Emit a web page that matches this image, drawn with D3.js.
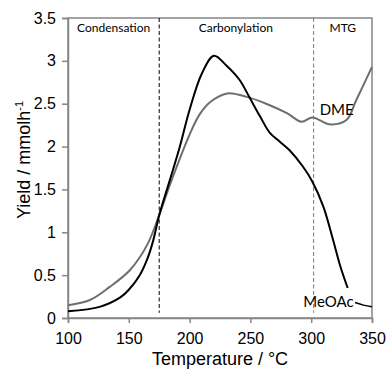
<!DOCTYPE html>
<html>
<head>
<meta charset="utf-8">
<script src="https://cdn.jsdelivr.net/npm/d3@7"></script>
<style>
body { margin: 0; background: #fff; }
text { font-family: "Liberation Sans", Arial, sans-serif; }
.lab { font-family: Lato, "Open Sans", sans-serif; }
</style>
</head>
<body>
<svg id="chart" width="387" height="370"></svg>
<script>
// MeOAc (black), gap where the label sits
var meoacT = [100, 126, 143, 150, 159, 165, 170, 175, 184, 192, 200, 210, 220, 230, 241, 249, 258, 266, 274, 282, 293, 301, 310, 318, 324, 330];
var meoacY = [0.08, 0.13, 0.24, 0.33, 0.5, 0.68, 0.9, 1.2, 1.62, 2.0, 2.43, 2.85, 3.06, 2.95, 2.78, 2.58, 2.35, 2.16, 2.06, 1.96, 1.77, 1.59, 1.3, 0.91, 0.6, 0.35];
var meoacTailT = [336, 343, 350];
var meoacTailY = [0.18, 0.15, 0.13];

// DME (grey)
var dmeT = [100, 118, 134, 151, 165, 175, 185, 200, 208, 217, 231, 247, 263, 280, 292, 301, 315, 329, 337, 350];
var dmeY = [0.15, 0.21, 0.36, 0.56, 0.85, 1.2, 1.6, 2.14, 2.37, 2.52, 2.62, 2.58, 2.5, 2.39, 2.29, 2.34, 2.26, 2.31, 2.54, 2.93];

var xTicks = [100, 150, 200, 250, 300, 350];
var yTicks = [0, 0.5, 1, 1.5, 2, 2.5, 3, 3.5];
var regions = ["Condensation", "Carbonylation", "MTG"];
var regionT = [137.5, 238, 326];
var bounds = [175, 302];

var svg = d3.select("#chart");
var margin = {left: 68, right: 15, top: 18, bottom: 52};
var w = 387 - margin.left - margin.right,
    h = 370 - margin.top - margin.bottom;
var g = svg.append("g").attr("transform", "translate(" + margin.left + "," + margin.top + ")");

var x = d3.scaleLinear().domain([100, 350]).range([0, w]);
var y = d3.scaleLinear().domain([0, 3.5]).range([h, 0]);

// frame
g.append("rect").attr("width", w).attr("height", h)
    .attr("fill", "none").attr("stroke", "#868686").attr("stroke-width", 1.5);

var xAxis = g.append("g").attr("transform", "translate(0," + h + ")")
    .call(d3.axisBottom(x).tickValues(xTicks).tickSize(5).tickPadding(10).tickFormat(d3.format("d")));
var yAxis = g.append("g")
    .call(d3.axisLeft(y).tickValues(yTicks).tickSize(6).tickPadding(6).tickFormat(function(d){ return String(d); }));
[xAxis, yAxis].forEach(function(a){
    a.select(".domain").attr("stroke", "#868686").attr("stroke-width", 1.5);
    a.selectAll(".tick line").attr("stroke", "#868686").attr("stroke-width", 1.5);
    a.selectAll("text").attr("font-size", 16).attr("fill", "#000")
        .style("font-family", "'Liberation Sans', Arial, sans-serif");
});

// region boundaries
g.selectAll(".bound").data(bounds).enter().append("line")
    .attr("x1", function(d){ return x(d); }).attr("x2", function(d){ return x(d); })
    .attr("y1", 0).attr("y2", y(0.06))
    .attr("stroke", function(d, i){ return i == 0 ? "#000" : "#777"; })
    .attr("stroke-width", 1).attr("stroke-dasharray", "4,2.5");

g.selectAll(".region").data(regions).enter().append("text")
    .attr("class", "lab")
    .attr("x", function(d, i){ return x(regionT[i]); })
    .attr("y", 14)
    .attr("text-anchor", "middle")
    .attr("font-size", 12)
    .text(function(d){ return d; });

var line = d3.line()
    .x(function(d){ return x(d[0]); })
    .y(function(d){ return y(d[1]); })
    .curve(d3.curveCatmullRom.alpha(0.5));

g.append("path").datum(d3.zip(dmeT, dmeY))
    .attr("fill", "none").attr("stroke", "#6e6e6e").attr("stroke-width", 2).attr("d", line);
g.append("path").datum(d3.zip(meoacT, meoacY))
    .attr("fill", "none").attr("stroke", "#000").attr("stroke-width", 2).attr("d", line);
g.append("path").datum(d3.zip(meoacTailT, meoacTailY))
    .attr("fill", "none").attr("stroke", "#000").attr("stroke-width", 1.5).attr("d", line);

// series labels
g.append("text").attr("class", "lab").attr("x", x(307)).attr("y", y(2.37))
    .attr("font-size", 15).text("DME");
g.append("text").attr("class", "lab").attr("x", x(293.5)).attr("y", y(0.13))
    .attr("font-size", 15).text("MeOAc");

// axis titles
svg.append("text")
    .attr("x", margin.left + w / 2).attr("y", 365)
    .attr("text-anchor", "middle").attr("font-size", 18)
    .text("Temperature / °C");

var yt = svg.append("text")
    .attr("transform", "translate(30," + (margin.top + h / 2 - 8) + ") rotate(-90)")
    .attr("text-anchor", "middle").attr("font-size", 18);
yt.append("tspan").text("Yield / mmolh");
yt.append("tspan").attr("font-size", 11).attr("dy", -7).text("-1");
</script>
</body>
</html>
